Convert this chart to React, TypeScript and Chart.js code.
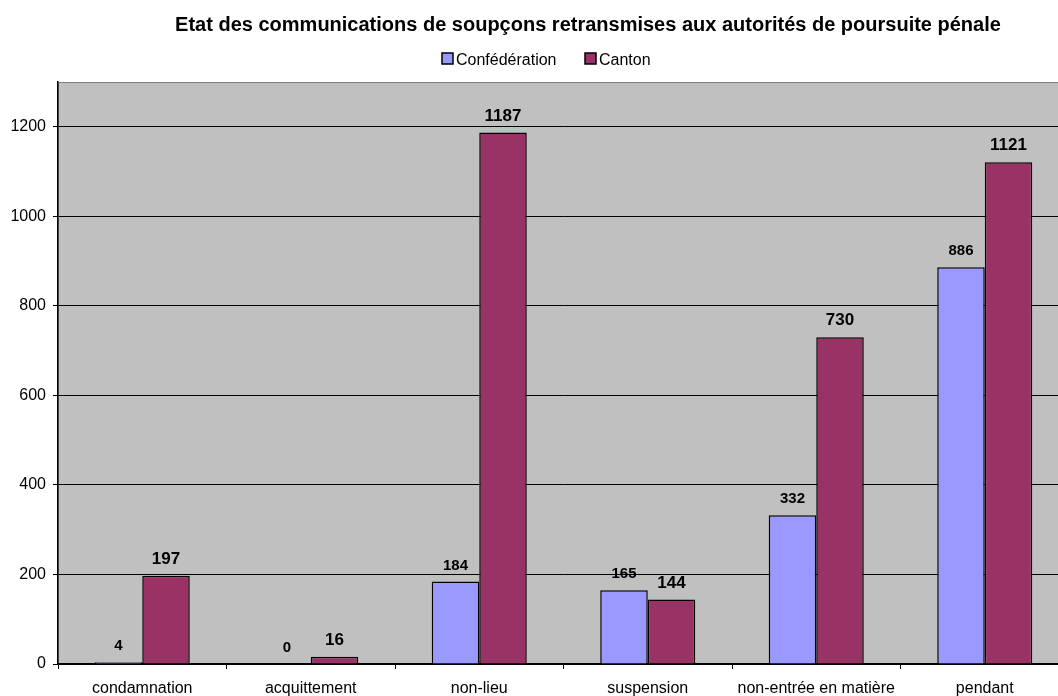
import { useEffect, useRef } from 'react';
import { Chart, registerables } from 'chart.js';

Chart.register(...registerables);

const categories = ['condamnation', 'acquittement', 'non-lieu', 'suspension', 'non-entrée en matière', 'pendant'];
const confederation = [4, 0, 184, 165, 332, 886];
const canton = [197, 16, 1187, 144, 730, 1121];
const seriesNames = ['Confédération', 'Canton'];
const titleText = 'Etat des communications de soupçons retransmises aux autorités de poursuite pénale';
const yMax = 1300;
const yStep = 200;
const yLastTick = 1200;

const FONT = '"Liberation Sans", Arial, Helvetica, sans-serif';
const COLORS = ['#9999FF', '#993366'];

const plotBg = {
  id: 'plotBg',
  beforeDraw(chart: any) {
    const { ctx, chartArea } = chart;
    const { left, top, right, bottom } = chartArea;
    ctx.save();
    ctx.fillStyle = '#C0C0C0';
    ctx.fillRect(left, top, right - left, bottom - top);
    ctx.strokeStyle = '#808080';
    ctx.lineWidth = 1;
    ctx.strokeRect(left + 0.5, top + 0.5, right - left - 1, bottom - top - 1);
    ctx.restore();
  },
};

const valueLabels = {
  id: 'valueLabels',
  afterDatasetsDraw(chart: any) {
    const { ctx } = chart;
    ctx.save();
    ctx.fillStyle = '#000';
    ctx.textAlign = 'center';
    ctx.textBaseline = 'alphabetic';
    chart.data.datasets.forEach((ds: any, i: number) => {
      const meta = chart.getDatasetMeta(i);
      ctx.font = i === 0 ? `bold 15px ${FONT}` : `bold 17px ${FONT}`;
      meta.data.forEach((bar: any, j: number) => {
        ctx.fillText(String(ds.data[j]), bar.x, bar.y - 12);
      });
    });
    ctx.restore();
  },
};

const header = {
  id: 'header',
  afterDraw(chart: any) {
    const { ctx } = chart;
    ctx.save();
    ctx.fillStyle = '#000';
    ctx.font = `bold 20px ${FONT}`;
    ctx.textAlign = 'center';
    ctx.textBaseline = 'alphabetic';
    ctx.fillText(titleText, 588, 31);

    ctx.font = `16px ${FONT}`;
    ctx.textAlign = 'left';
    const items = [
      { x: 442, text: seriesNames[0], color: COLORS[0] },
      { x: 585, text: seriesNames[1], color: COLORS[1] },
    ];
    items.forEach((it) => {
      ctx.fillStyle = it.color;
      ctx.fillRect(it.x, 53, 11, 11);
      ctx.strokeStyle = '#000';
      ctx.lineWidth = 1.5;
      ctx.strokeRect(it.x, 53, 11, 11);
      ctx.fillStyle = '#000';
      ctx.fillText(it.text, it.x + 14, 65);
    });
    ctx.restore();
  },
};

export default function App() {
  const ref = useRef<HTMLCanvasElement | null>(null);

  useEffect(() => {
    if (!ref.current) return;
    const chart = new Chart(ref.current, {
      type: 'bar',
      data: {
        labels: categories,
        datasets: [
          {
            label: seriesNames[0],
            data: confederation,
            backgroundColor: COLORS[0],
            borderColor: '#000',
            borderWidth: 1.5,
            categoryPercentage: 0.564,
            barPercentage: 1,
          },
          {
            label: seriesNames[1],
            data: canton,
            backgroundColor: COLORS[1],
            borderColor: '#000',
            borderWidth: 1.5,
            categoryPercentage: 0.564,
            barPercentage: 1,
          },
        ],
      },
      options: {
        responsive: false,
        animation: false,
        layout: { padding: { top: 82, right: 11, left: 0, bottom: 0 } },
        plugins: {
          legend: { display: false },
          title: { display: false },
          tooltip: { enabled: false },
        },
        scales: {
          x: {
            offset: true,
            grid: {
              display: true,
              drawOnChartArea: false,
              offset: true,
              tickLength: 5,
              tickColor: '#000',
              tickWidth: 1,
            },
            border: { color: '#000', width: 1.5 },
            ticks: {
              color: '#000',
              font: { family: FONT, size: 16 },
              padding: 10,
              maxRotation: 0,
              autoSkip: false,
            },
            afterFit(scale: any) {
              scale.height = 32;
            },
          },
          y: {
            min: 0,
            max: yMax,
            grid: {
              color: '#000',
              lineWidth: 1,
              tickLength: 5,
              tickColor: '#000',
            },
            border: { color: '#000', width: 1.5 },
            ticks: {
              stepSize: yStep,
              color: '#000',
              font: { family: FONT, size: 16 },
              padding: 7,
              callback: (v: any) => String(v),
            },
            afterBuildTicks(scale: any) {
              scale.ticks = scale.ticks.filter((t: any) => t.value <= yLastTick);
            },
            afterFit(scale: any) {
              scale.width = 58;
            },
          },
        },
      },
      plugins: [plotBg, valueLabels, header],
    });
    return () => chart.destroy();
  }, []);

  return (
    <div style={{ position: 'absolute', left: 0, top: 0, width: 1058, height: 696, overflow: 'hidden', background: '#fff' }}>
      <canvas ref={ref} width={1080} height={696} style={{ display: 'block' }} />
    </div>
  );
}
